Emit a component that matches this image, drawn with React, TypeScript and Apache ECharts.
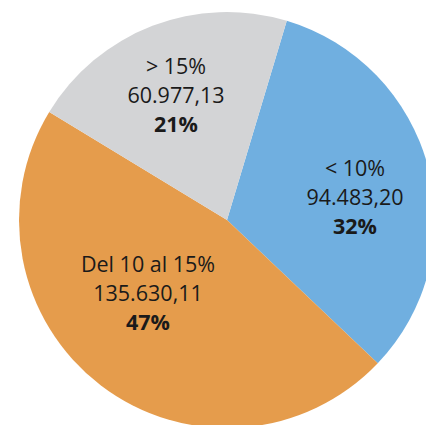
import React, { useEffect, useRef } from "react";
import * as echarts from "echarts";

const categories = ["< 10%", "Del 10 al 15%", "> 15%"];
const values = [94483.2, 135630.11, 60977.13];
const colors = ["#70AFE0", "#E59C4C", "#D3D4D6"];
const labelPos = [
  [355, 196],
  [148, 292],
  [176, 94],
];

function fmtEs(v: number): string {
  const [i, d] = v.toFixed(2).split(".");
  const withDots = i.replace(/\B(?=(\d{3})+(?!\d))/g, ".");
  return withDots + "," + d;
}

export default function App() {
  const ref = useRef<HTMLDivElement>(null);
  useEffect(() => {
    if (!ref.current) return;
    const chart = echarts.init(ref.current, null, { renderer: "svg" });
    const total = values.reduce((a, b) => a + b, 0);
    const font = "'Open Sans', 'Noto Sans', sans-serif";
    chart.setOption({
      animation: false,
      series: [
        {
          type: "pie",
          center: [227, 220],
          radius: [0, 208],
          startAngle: 73.3,
          clockwise: true,
          silent: true,
          data: categories.map((c, i) => ({
            name: c,
            value: values[i],
            itemStyle: { color: colors[i] },
          })),
          itemStyle: { borderWidth: 0 },
          label: {
            show: true,
            position: "inside",
            align: "center",
            verticalAlign: "middle",
            formatter: (p: any) =>
              `{n|${p.name}}\n{v|${fmtEs(p.value)}}\n{p|${Math.round((p.value / total) * 100)}%}`,
            rich: {
              n: { fontFamily: font, fontSize: 21.5, color: "#1a1a1a", lineHeight: 29, align: "center" },
              v: { fontFamily: font, fontSize: 21.5, color: "#1a1a1a", lineHeight: 29, align: "center" },
              p: { fontFamily: font, fontSize: 21.5, fontWeight: "bold", color: "#1a1a1a", lineHeight: 29, align: "center" },
            },
          },
          labelLine: { show: false },
          labelLayout: (params: any) => ({
            x: labelPos[params.dataIndex][0],
            y: labelPos[params.dataIndex][1],
            align: "center",
            verticalAlign: "middle",
          }),
        },
      ],
    });
    return () => chart.dispose();
  }, []);
  return (
    <div
      ref={ref}
      style={{ position: "fixed", left: 0, top: 0, width: 426, height: 425, background: "#ffffff" }}
    />
  );
}
